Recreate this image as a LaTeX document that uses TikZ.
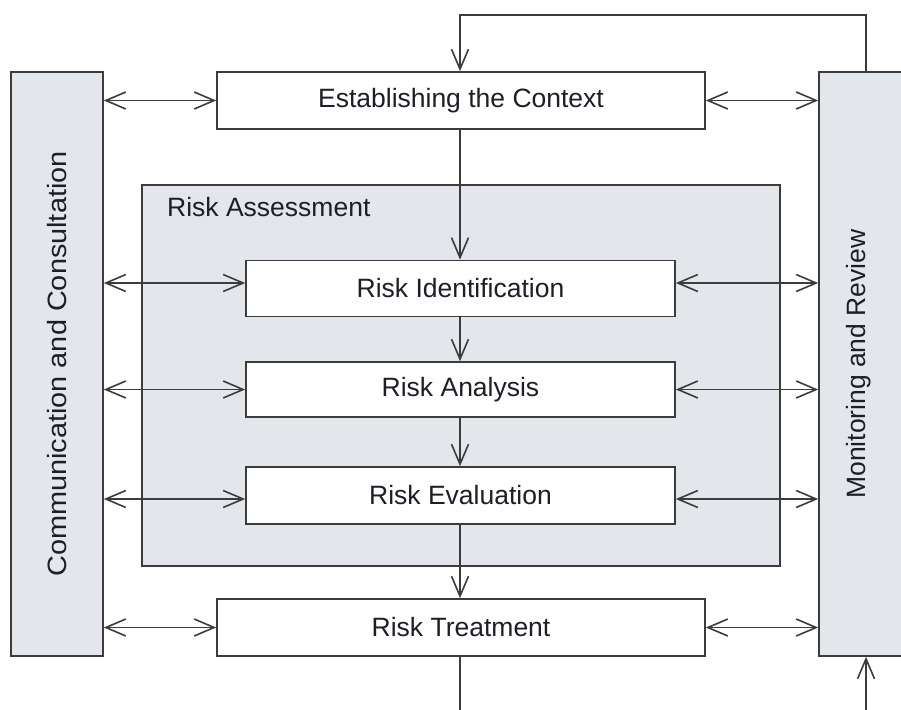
\documentclass[tikz,border=0pt]{standalone}
\usepackage{fontspec}
\setmainfont{Liberation Sans}
\usetikzlibrary{arrows.meta}

\definecolor{linegray}{HTML}{3C3C3C}
\definecolor{panelgray}{HTML}{E3E6EA}
\definecolor{textdark}{HTML}{1E1E28}

\tikzset{
  stage/.style = {draw = linegray, fill = white, line width = 1.6pt, inner sep = 0pt, text = textdark},
  panel/.style = {draw = linegray, fill = panelgray, line width = 1.6pt, inner sep = 0pt, text = textdark},
  tip/.tip = {Straight Barb[length = 20pt, width = 17pt, line width = 1.6pt]},
  flow/.style = {draw = linegray, line width = 1.6pt, -tip},
  both/.style = {draw = linegray, line width = 1.6pt, tip-tip}
}

\begin{document}
\begin{tikzpicture}[x = 1pt, y = -1pt, font = \fontsize{26.5}{31}\selectfont]
\useasboundingbox (0, 0) rectangle (901, 709);
\clip (0, 0) rectangle (901, 709);
\fill[white] (0, 0) rectangle (901, 709);

% side panels
\node[panel, minimum width = 92pt, minimum height = 584pt] (comm) at (57, 364) {\rotatebox{90}{\scalebox{1.09}[1]{Communication and Consultation}}};
\node[panel, minimum width = 86pt, minimum height = 584pt] (mon) at (862, 364) {\hspace*{-6pt}\rotatebox{90}{Monitoring and Review}};

% assessment block
\node[panel, minimum width = 638pt, minimum height = 381pt] (assess) at (461, 375.5) {};
\node[anchor = west, text = textdark, inner sep = 0pt] (assesslbl) at (167, 207) {Risk Assessment};

% process stages
\node[stage, minimum width = 488pt, minimum height = 57pt] (est) at (461, 100.5) {Establishing the Context};
\node[stage, minimum width = 429pt, minimum height = 56pt] (ident) at (460.5, 288.5) {Risk Identification};
\node[stage, minimum width = 429pt, minimum height = 55pt] (anal) at (460.5, 389.5) {Risk Analysis};
\node[stage, minimum width = 429pt, minimum height = 57pt] (eval) at (460.5, 495.5) {Risk Evaluation};
\node[stage, minimum width = 488pt, minimum height = 57pt] (treat) at (461, 627.5) {Risk Treatment};

% main flow
\draw[flow] (est.south -| 460, 0) -- (ident.north -| 460, 0);
\draw[flow] (ident.south -| 460, 0) -- (anal.north -| 460, 0);
\draw[flow] (anal.south -| 460, 0) -- (eval.north -| 460, 0);
\draw[flow] (eval.south -| 460, 0) -- (treat.north -| 460, 0);

% feedback loop
\coordinate (loopr) at (866, 15);
\coordinate (loopl) at (460, 15);
\coordinate (outb) at (460, 712);
\coordinate (inb) at (866, 712);
\draw[flow] (mon.north -| loopr) -- (loopr) -- (loopl) -- (est.north -| loopl);
\draw[draw = linegray, line width = 1.6pt] (treat.south -| outb) -- (outb);
\draw[flow] (inb) -- (mon.south -| inb);

% communication links
\draw[both] (comm.east |- est) -- (est.west);
\draw[both] (comm.east |- 0, 283) -- (ident.west |- 0, 283);
\draw[both] (comm.east |- anal) -- (anal.west);
\draw[both] (comm.east |- 0, 499) -- (eval.west |- 0, 499);
\draw[both] (comm.east |- treat) -- (treat.west);

% monitoring links
\draw[both] (est.east) -- (mon.west |- est);
\draw[both] (ident.east |- 0, 283) -- (mon.west |- 0, 283);
\draw[both] (anal.east) -- (mon.west |- anal);
\draw[both] (eval.east |- 0, 499) -- (mon.west |- 0, 499);
\draw[both] (treat.east) -- (mon.west |- treat);
\end{tikzpicture}
\end{document}
